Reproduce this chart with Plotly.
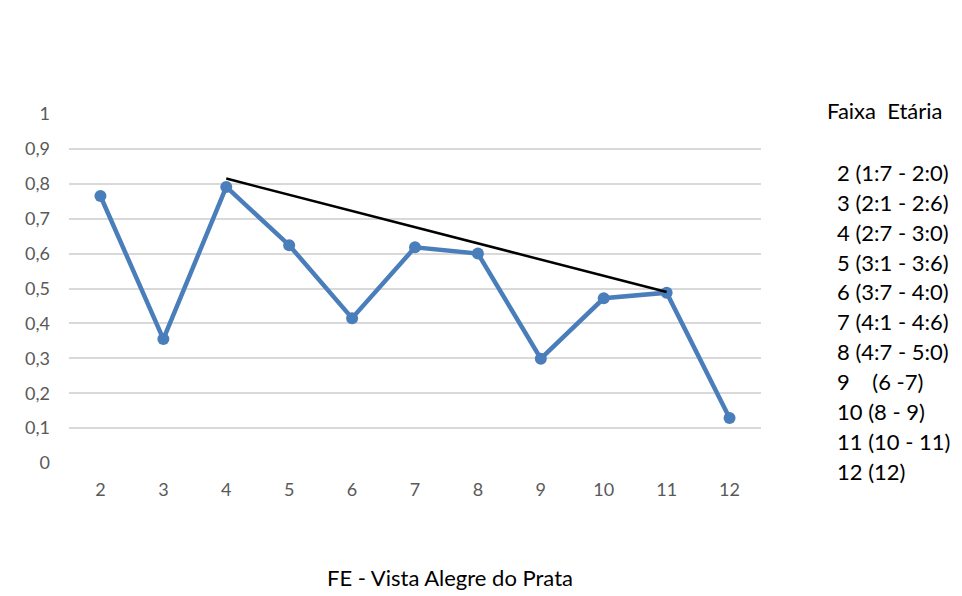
import plotly.graph_objects as go

# Age-group index and FE score
faixas = [2, 3, 4, 5, 6, 7, 8, 9, 10, 11, 12]
valores = [0.765, 0.355, 0.791, 0.624, 0.415, 0.618, 0.600, 0.299, 0.472, 0.488, 0.129]

# Straight reference line drawn over the peaks (groups 4 and 11)
tendencia_x = [4, 11]
tendencia_y = [0.815, 0.490]

titulo_legenda = "Faixa  Etária"
rotulos_faixa = [
    "2 (1:7 - 2:0)",
    "3 (2:1 - 2:6)",
    "4 (2:7 - 3:0)",
    "5 (3:1 - 3:6)",
    "6 (3:7 - 4:0)",
    "7 (4:1 - 4:6)",
    "8 (4:7 - 5:0)",
    "9    (6 -7)",
    "10 (8 - 9)",
    "11 (10 - 11)",
    "12 (12)",
]
titulo = "FE - Vista Alegre do Prata"

azul = "#4a7ebb"
cinza_texto = "#595959"

fig = go.Figure()
fig.add_trace(go.Scatter(
    x=faixas, y=valores, mode="lines+markers",
    line=dict(color=azul, width=4.5),
    marker=dict(color=azul, size=12),
    showlegend=False, hoverinfo="x+y",
))
fig.add_trace(go.Scatter(
    x=tendencia_x, y=tendencia_y, mode="lines",
    line=dict(color="black", width=2.5),
    showlegend=False, hoverinfo="skip",
))

fonte = "Lato, 'Noto Sans', sans-serif"
anotacoes = [
    dict(text=titulo_legenda.replace("  ", "&nbsp;&nbsp;"), x=826, y=110,
         showarrow=False, xanchor="left", yanchor="middle",
         font=dict(family=fonte, size=22, color="black")),
]
for i, rotulo in enumerate(rotulos_faixa):
    anotacoes.append(dict(
        text=rotulo.replace("  ", "&nbsp;&nbsp;"), x=836, y=172 + 30 * i,
        showarrow=False, xanchor="left", yanchor="middle",
        font=dict(family=fonte, size=22, color="black"),
    ))
anotacoes.append(dict(
    text=titulo, x=450, y=578, showarrow=False, xanchor="center", yanchor="middle",
    font=dict(family=fonte, size=22, color="black"),
))

# Convert pixel positions of the side text to paper coordinates
W, H = 962, 596
ml, mr, mt, mb = 68.5, 200.5, 113.5, 132.5
pw, ph = W - ml - mr, H - mt - mb
for a in anotacoes:
    a["xref"] = "paper"
    a["yref"] = "paper"
    a["x"] = (a["x"] - ml) / pw
    a["y"] = (H - mb - a["y"]) / ph

fig.update_layout(
    width=W, height=H,
    margin=dict(l=ml, r=mr, t=mt, b=mb, pad=0),
    paper_bgcolor="white", plot_bgcolor="white",
    separators=",.",
    annotations=anotacoes,
    xaxis=dict(
        range=[1.5, 12.5], tickmode="array", tickvals=faixas,
        ticktext=[str(f) for f in faixas],
        showgrid=False, zeroline=False, showline=False, ticks="",
        tickfont=dict(family=fonte, size=18, color=cinza_texto),
        ticklabelstandoff=14,
    ),
    yaxis=dict(
        range=[0, 1], dtick=0.1, tick0=0,
        showgrid=True, gridcolor="#d9d9d9", gridwidth=1.5,
        zeroline=False, showline=False, ticks="",
        tickfont=dict(family=fonte, size=18, color=cinza_texto),
        ticklabelstandoff=18,
    ),
)

fig.write_html("out.html")
